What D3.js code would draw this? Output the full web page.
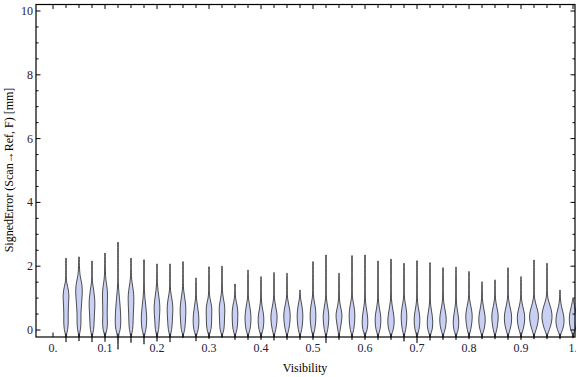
<!DOCTYPE html>
<html>
<head>
<meta charset="utf-8">
<script src="https://cdn.jsdelivr.net/npm/d3@7"></script>
<style>
  body { margin: 0; background: #fff; }
  text { font-family: "Liberation Serif", "DejaVu Serif", serif; }
</style>
</head>
<body>
<svg id="chart" width="576" height="377"></svg>
<script>
// visibility bins (x categories)
var visibility = [0.025, 0.05, 0.075, 0.1, 0.125, 0.15, 0.175, 0.2, 0.225, 0.25,
                  0.275, 0.3, 0.325, 0.35, 0.375, 0.4, 0.425, 0.45, 0.475, 0.5,
                  0.525, 0.55, 0.575, 0.6, 0.625, 0.65, 0.675, 0.7, 0.725, 0.75,
                  0.775, 0.8, 0.825, 0.85, 0.875, 0.9, 0.925, 0.95, 0.975, 1.0];

// top / bottom of each violin (tails)
var errMax = [2.25, 2.29, 2.16, 2.41, 2.75, 2.25, 2.2, 2.07, 2.07, 2.14,
              1.63, 1.98, 2.0, 1.44, 1.88, 1.67, 1.8, 1.78, 1.25, 2.14,
              2.35, 1.78, 2.33, 2.35, 2.16, 2.22, 2.09, 2.17, 2.11, 1.95,
              1.97, 1.83, 1.51, 1.57, 1.95, 1.67, 2.19, 2.09, 1.25, 0.97];
var errMin = [-0.37, -0.34, -0.37, -0.36, -0.6, -0.39, -0.44, -0.35, -0.37, -0.24,
              -0.34, -0.27, -0.23, -0.3, -0.3, -0.3, -0.32, -0.3, -0.3, -0.3,
              -0.4, -0.3, -0.3, -0.3, -0.3, -0.3, -0.35, -0.4, -0.32, -0.3,
              -0.3, -0.28, -0.28, -0.28, -0.3, -0.3, -0.28, -0.28, -0.28, -0.25];

// density profile sampled at these error levels
var levels = [-0.15, 0, 0.25, 0.5, 0.75, 1.0, 1.25, 1.5, 1.75];
var density = [
  [0.03, 0.3, 0.4, 0.35, 0.4, 0.5, 0.45, 0.05, 0],
  [0.03, 0.25, 0.35, 0.3, 0.4, 0.5, 0.58, 0.45, 0.08],
  [0.03, 0.3, 0.35, 0.4, 0.5, 0.45, 0.3, 0.05, 0],
  [0.03, 0.35, 0.42, 0.35, 0.38, 0.42, 0.42, 0.2, 0.02],
  [0.05, 0.4, 0.48, 0.45, 0.35, 0.25, 0.1, 0.02, 0],
  [0.03, 0.3, 0.35, 0.38, 0.45, 0.5, 0.4, 0.15, 0.02],
  [0.03, 0.35, 0.45, 0.45, 0.3, 0.15, 0.05, 0, 0],
  [0.03, 0.3, 0.35, 0.45, 0.5, 0.35, 0.15, 0.02, 0],
  [0.03, 0.3, 0.38, 0.45, 0.5, 0.3, 0.05, 0, 0],
  [0.03, 0.3, 0.4, 0.48, 0.48, 0.3, 0.08, 0, 0],
  [0.05, 0.4, 0.5, 0.45, 0.25, 0.05, 0, 0, 0],
  [0.03, 0.35, 0.45, 0.45, 0.5, 0.1, 0, 0, 0],
  [0.03, 0.35, 0.4, 0.45, 0.5, 0.2, 0.02, 0, 0],
  [0.03, 0.35, 0.45, 0.5, 0.4, 0.05, 0, 0, 0],
  [0.03, 0.35, 0.5, 0.5, 0.3, 0.03, 0, 0, 0],
  [0.03, 0.35, 0.5, 0.45, 0.15, 0.02, 0, 0, 0],
  [0.03, 0.3, 0.5, 0.55, 0.25, 0.02, 0, 0, 0],
  [0.03, 0.3, 0.5, 0.58, 0.35, 0.05, 0, 0, 0],
  [0.03, 0.3, 0.45, 0.5, 0.35, 0.05, 0, 0, 0],
  [0.03, 0.3, 0.45, 0.5, 0.38, 0.08, 0, 0, 0],
  [0.03, 0.3, 0.45, 0.5, 0.25, 0.02, 0, 0, 0],
  [0.02, 0.2, 0.4, 0.58, 0.2, 0.02, 0, 0, 0],
  [0.03, 0.3, 0.45, 0.5, 0.35, 0.05, 0, 0, 0],
  [0.03, 0.4, 0.5, 0.4, 0.15, 0.02, 0, 0, 0],
  [0.03, 0.35, 0.5, 0.45, 0.15, 0.02, 0, 0, 0],
  [0.03, 0.4, 0.58, 0.45, 0.2, 0.02, 0, 0, 0],
  [0.03, 0.3, 0.45, 0.5, 0.3, 0.03, 0, 0, 0],
  [0.03, 0.35, 0.5, 0.45, 0.15, 0.02, 0, 0, 0],
  [0.03, 0.4, 0.5, 0.35, 0.1, 0, 0, 0, 0],
  [0.03, 0.35, 0.58, 0.5, 0.2, 0.02, 0, 0, 0],
  [0.03, 0.4, 0.5, 0.35, 0.1, 0, 0, 0, 0],
  [0.03, 0.3, 0.5, 0.58, 0.3, 0.02, 0, 0, 0],
  [0.03, 0.35, 0.58, 0.5, 0.2, 0.02, 0, 0, 0],
  [0.03, 0.3, 0.5, 0.58, 0.25, 0.02, 0, 0, 0],
  [0.03, 0.35, 0.62, 0.62, 0.3, 0.02, 0, 0, 0],
  [0.03, 0.35, 0.62, 0.65, 0.25, 0.02, 0, 0, 0],
  [0.03, 0.35, 0.7, 0.8, 0.4, 0.03, 0, 0, 0],
  [0.03, 0.4, 0.8, 0.9, 0.55, 0.08, 0, 0, 0],
  [0.03, 0.45, 0.75, 0.6, 0.2, 0.02, 0, 0, 0],
  [0.03, 0.4, 0.65, 0.6, 0.25, 0.02, 0, 0, 0]
];

var xTickValues = [0, 0.1, 0.2, 0.3, 0.4, 0.5, 0.6, 0.7, 0.8, 0.9, 1.0];
var xTickLabels = ["0.", "0.1", "0.2", "0.3", "0.4", "0.5", "0.6", "0.7", "0.8", "0.9", "1."];
var yTickValues = [0, 2, 4, 6, 8, 10];

var svg = d3.select("#chart");
var frameL = 36, frameR = 575, frameT = 4.5, frameB = 337;

var x = d3.scaleLinear().domain([0, 1]).range([53, 573]);
var y = d3.scaleLinear().domain([0, 10]).range([330, 11]);
var w = d3.scaleLinear().domain([0, 1]).range([0, 6]);

// violins
var area = d3.area()
    .y(d => y(d[0]))
    .x0(d => d[2] - Math.max(0.25, w(d[1])))
    .x1(d => d[2] + Math.max(0.25, w(d[1])))
    .curve(d3.curveBasis);

var g = svg.append("g");
visibility.forEach(function(v, i) {
    var cx = x(v);
    var pts = [[errMin[i], 0, cx]];
    levels.forEach(function(l, j) {
        if (l > errMin[i] && l < errMax[i]) pts.push([l, density[i][j], cx]);
    });
    pts.push([errMax[i], 0, cx]);
    g.append("path")
        .attr("d", area(pts))
        .attr("fill", "#c9d0f3")
        .attr("stroke", "#3a3a3a")
        .attr("stroke-width", 0.9);
});

// frame
svg.append("rect")
    .attr("x", frameL).attr("y", frameT)
    .attr("width", frameR - frameL).attr("height", frameB - frameT)
    .attr("fill", "none").attr("stroke", "#000").attr("stroke-width", 1.2);

// x ticks every 0.025 on top and bottom
var xMinor = [0].concat(visibility);
var ticks = svg.append("g").attr("stroke", "#000").attr("stroke-width", 1);
xMinor.forEach(function(v) {
    var major = xTickValues.some(t => Math.abs(t - v) < 1e-9);
    var len = major ? 4.5 : 3.5;
    ticks.append("line").attr("x1", x(v)).attr("x2", x(v)).attr("y1", frameB).attr("y2", frameB - len);
    ticks.append("line").attr("x1", x(v)).attr("x2", x(v)).attr("y1", frameT).attr("y2", frameT + len);
});

// y ticks every 0.5 on left and right
d3.range(0, 21).forEach(function(k) {
    var v = k * 0.5;
    var len = (k % 4 === 0) ? 4.5 : 2.5;
    ticks.append("line").attr("x1", frameL).attr("x2", frameL + len).attr("y1", y(v)).attr("y2", y(v));
    ticks.append("line").attr("x1", frameR).attr("x2", frameR - len).attr("y1", y(v)).attr("y2", y(v));
});

// tick labels
svg.append("g").selectAll("text").data(xTickValues).enter().append("text")
    .attr("x", d => x(d))
    .attr("y", 352)
    .attr("text-anchor", "middle")
    .attr("font-size", 12)
    .attr("fill", "#1c2040")
    .text((d, i) => xTickLabels[i]);

svg.append("g").selectAll("text").data(yTickValues).enter().append("text")
    .attr("x", 33)
    .attr("y", d => y(d) + 4)
    .attr("text-anchor", "end")
    .attr("font-size", 12)
    .attr("fill", "#1c2040")
    .text(d => d);

// axis titles
svg.append("text")
    .attr("x", 305).attr("y", 372)
    .attr("text-anchor", "middle")
    .attr("font-size", 12)
    .text("Visibility");

svg.append("text")
    .attr("transform", "translate(13,170) rotate(-90)")
    .attr("text-anchor", "middle")
    .attr("font-size", 12)
    .text("SignedError (Scan\u2192Ref, F) [mm]");
</script>
</body>
</html>
